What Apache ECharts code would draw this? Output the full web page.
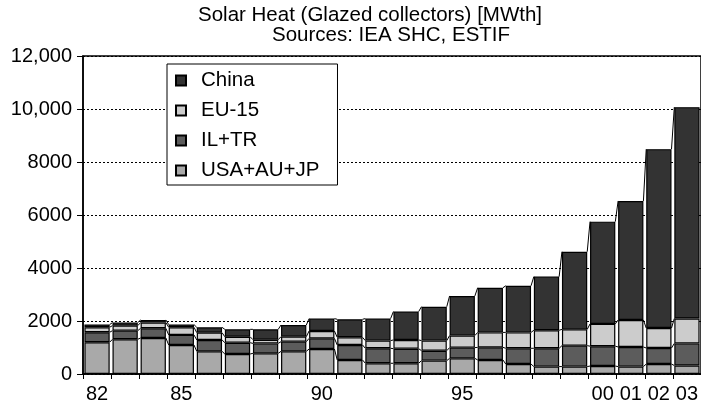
<!DOCTYPE html>
<html>
<head>
<meta charset="utf-8">
<script src="https://cdn.jsdelivr.net/npm/echarts@6/dist/echarts.min.js"></script>
<style>
html,body{margin:0;padding:0;background:#fff;}
#chart{width:701px;height:409px;}
</style>
</head>
<body>
<div id="chart"></div>
<script>
// ---- data ----
var years = ['82','83','84','85','86','87','88','89','90','91','92','93','94','95','96','97','98','99','00','01','02','03'];
var xTickLabels = ['82','85','90','95','00','01','02','03'];
var yTicks = [0, 2000, 4000, 6000, 8000, 10000, 12000];
var usaAuJp = [1200,1310,1360,1095,855,755,780,855,945,530,405,405,505,590,530,375,280,280,300,280,375,320];
var ilTr    = [375,325,365,380,430,425,375,365,400,565,565,550,375,405,475,595,690,790,750,740,605,835];
var eu15    = [190,190,215,290,275,225,140,190,280,290,290,330,380,455,565,600,680,615,840,1020,755,940];
var china   = [100,115,100,100,200,280,390,440,465,680,830,1070,1280,1495,1685,1760,2025,2930,3860,4490,6750,7975];

var seriesNames = ['USA+AU+JP','IL+TR','EU-15','China'];
var seriesData = [usaAuJp, ilTr, eu15, china];
var colors = ['#a9a9a9','#5c5c5c','#cccccc','#333333'];

// cumulative levels for series lines
var cum = [];
(function(){
  var run = years.map(function(){return 0;});
  seriesData.forEach(function(arr){
    run = run.map(function(v,i){return v + arr[i];});
    cum.push(run.slice());
  });
})();

var FONT = "'Liberation Sans', Arial, Helvetica, sans-serif";
var chart = echarts.init(document.getElementById('chart'), null, {renderer:'canvas'});

var barGapRatio = 0.10;

var series = seriesNames.map(function(n, k){
  return {
    name: n,
    type: 'bar',
    stack: 'total',
    data: seriesData[k],
    barCategoryGap: (barGapRatio*100) + '%',
    itemStyle: {color: colors[k], borderColor: '#000', borderWidth: 1.2},
    emphasis: {disabled: true},
    animation: false,
    z: 2
  };
});

series.push({
  type: 'custom',
  name: 'seriesLines',
  silent: true,
  animation: false,
  z: 3,
  data: years.slice(0, years.length - 1).map(function(y, i){ return [i, cum[cum.length-1][i]]; }),
  encode: {x: 0, y: 1},
  renderItem: function(params, api){
    var i = api.value(0);
    var band = api.size([1, 0])[0];
    var half = band * (1 - barGapRatio) / 2;
    var children = [];
    for (var k = 0; k < cum.length; k++) {
      var p1 = api.coord([i, cum[k][i]]);
      var p2 = api.coord([i + 1, cum[k][i + 1]]);
      children.push({
        type: 'line',
        shape: {x1: p1[0] + half, y1: p1[1], x2: p2[0] - half, y2: p2[1]},
        style: {stroke: '#000', lineWidth: 1}
      });
    }
    return {type: 'group', children: children};
  }
});

chart.setOption({
  backgroundColor: '#fff',
  animation: false,
  title: [
    {text: 'Solar Heat (Glazed collectors) [MWth]', left: 193, top: 0,
     textStyle: {fontFamily: FONT, fontSize: 20.5, fontWeight: 'normal', color: '#000'}},
    {text: 'Sources: IEA SHC, ESTIF', left: 267, top: 20,
     textStyle: {fontFamily: FONT, fontSize: 20.5, fontWeight: 'normal', color: '#000'}}
  ],
  legend: {
    data: ['China','EU-15','IL+TR','USA+AU+JP'],
    orient: 'vertical',
    left: 167, top: 64,
    padding: [6, 18, 4, 8],
    itemGap: 9,
    itemWidth: 10, itemHeight: 10,
    icon: 'rect',
    backgroundColor: '#fff',
    borderColor: '#000', borderWidth: 1,
    selectedMode: false,
    textStyle: {fontFamily: FONT, fontSize: 20.5, color: '#000', lineHeight: 20, padding: [0,0,0,10]}
  },
  grid: {
    left: 83, top: 56, width: 625, height: 318,
    show: true, borderColor: '#000', borderWidth: 1.5, backgroundColor: 'transparent'
  },
  xAxis: {
    type: 'category',
    data: years,
    boundaryGap: true,
    axisLine: {show: true, lineStyle: {color: '#000', width: 1.5}},
    axisTick: {show: true, length: 5, inside: false, interval: 0, lineStyle: {color: '#000', width: 1}},
    axisLabel: {
      interval: 0, margin: 10,
      fontFamily: FONT, fontSize: 20, color: '#000',
      formatter: function(v){ return xTickLabels.indexOf(v) >= 0 ? v : ''; }
    },
    splitLine: {show: false}
  },
  yAxis: {
    type: 'value',
    min: 0, max: 12000, interval: 2000,
    axisLine: {show: true, lineStyle: {color: '#000', width: 1.5}},
    axisTick: {show: true, length: 6, lineStyle: {color: '#000', width: 1}},
    axisLabel: {
      margin: 11, fontFamily: FONT, fontSize: 20, color: '#000',
      formatter: function(v){
        if (yTicks.indexOf(v) < 0) return '';
        return v >= 10000 ? echarts.format.addCommas(v) : String(v);
      }
    },
    splitLine: {show: true, lineStyle: {color: '#000', width: 1, type: [2, 2]}}
  },
  series: series
});
</script>
</body>
</html>
